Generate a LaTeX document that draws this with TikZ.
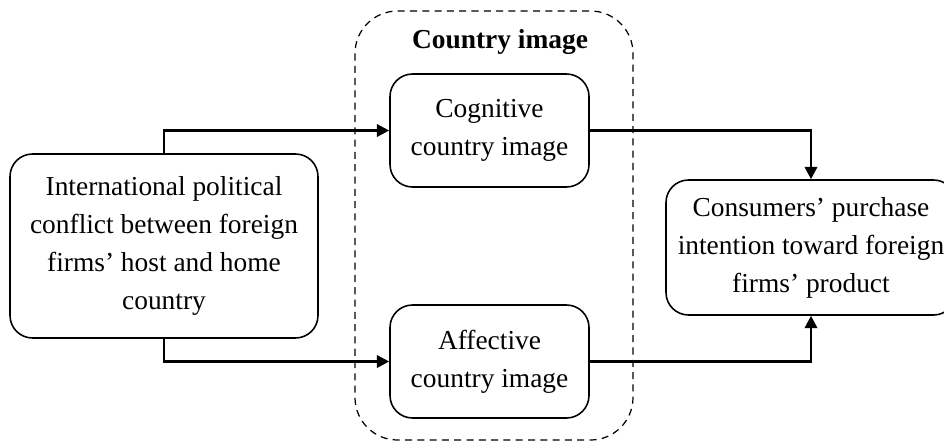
\documentclass[tikz,border=0pt]{standalone}
\usepackage{fontspec}
\setmainfont{Liberation Serif}
\usetikzlibrary{arrows.meta}
\tikzset{
  ci box/.style={draw=black, line width=0.9pt, rounded corners=0.45cm, align=center, inner sep=2pt,
    font=\fontsize{15.6}{21.6}\selectfont},
  ci group/.style={draw=black, dash pattern=on 4pt off 3pt, line width=0.7pt, rounded corners=0.85cm},
  ci link/.style={draw=black, line width=1.4pt, -{Triangle[length=7pt, width=7pt]}},
  ci title/.style={font=\fontsize{15.6}{21.6}\selectfont\bfseries},
}

\begin{document}
\begin{tikzpicture}
  \useasboundingbox (0,0) rectangle (18.88,-8.86);
  \clip (0,0) rectangle (18.88,-8.86);

  % dashed group round the two image boxes
  \draw[ci group] (7.1,-0.22) rectangle (12.66,-8.8);
  \node[ci title] (title) at (10.0,-0.84) {Country image};

  % boxes
  \node[ci box, minimum width=6.16cm, minimum height=3.68cm] (conflict) at (3.28,-4.92)
    {International political\\conflict between foreign\\firms' host and home\\country};
  \node[ci box, minimum width=3.98cm, minimum height=2.26cm] (cog) at (9.79,-2.61)
    {Cognitive\\country image};
  \node[ci box, minimum width=3.98cm, minimum height=2.26cm] (aff) at (9.79,-7.23)
    {Affective\\country image};
  \node[ci box, minimum width=5.8cm, minimum height=2.7cm] (purchase) at (16.22,-4.95)
    {Consumers' purchase\\intention toward foreign\\firms' product};

  % links
  \draw[ci link] (conflict.north) |- (cog.west);
  \draw[ci link] (conflict.south) |- (aff.west);
  \draw[ci link] (cog.east) -| (purchase.north);
  \draw[ci link] (aff.east) -| (purchase.south);
\end{tikzpicture}
\end{document}
